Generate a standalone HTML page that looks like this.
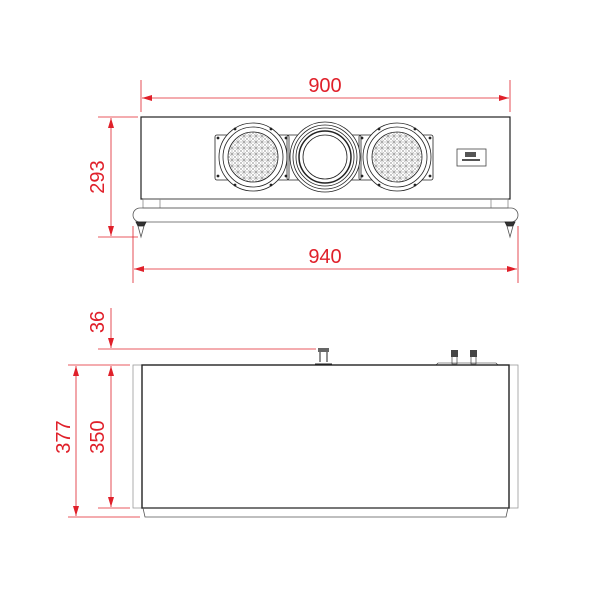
<!DOCTYPE html>
<html><head><style>body{margin:0;background:#fff}svg{display:block}</style></head><body>
<svg width="600" height="600" viewBox="0 0 600 600" xmlns="http://www.w3.org/2000/svg" font-family="Liberation Sans, sans-serif">
<defs>
<marker id="a" viewBox="0 0 10 6" refX="10" refY="3" markerWidth="10" markerHeight="6" orient="auto-start-reverse" markerUnits="userSpaceOnUse"><path d="M0,0L10,3L0,6z" fill="#e0202a"/></marker>
<pattern id="g" width="6" height="6" patternUnits="userSpaceOnUse"><path d="M0,0L6,6M6,0L0,6M3,0V6M0,3H6" stroke="#777" stroke-width="0.4"/></pattern>
<g id="w" stroke="#222" fill="none" stroke-width="0.8"><rect x="-38" y="-22" width="74" height="45" rx="2"/><circle r="34" fill="#fff"/><circle r="30"/><circle r="25" fill="url(#g)"/>
<circle cx="-18" cy="-28" r="1" fill="#222"/><circle cx="18" cy="-28" r="1" fill="#222"/><circle cx="-18" cy="28" r="1" fill="#222"/><circle cx="18" cy="28" r="1" fill="#222"/><circle cx="-35" cy="-19" r="1" fill="#222"/><circle cx="-35" cy="19" r="1" fill="#222"/><circle cx="33" cy="-19" r="1" fill="#222"/><circle cx="33" cy="19" r="1" fill="#222"/></g>
</defs>
<g stroke="#e0202a" stroke-width="0.8" fill="none">
<line x1="141" y1="80" x2="141" y2="112"/><line x1="510" y1="80" x2="510" y2="112"/>
<line x1="142" y1="98" x2="509" y2="98" marker-start="url(#a)" marker-end="url(#a)"/>
<line x1="98" y1="117" x2="138" y2="117"/><line x1="98" y1="237" x2="138" y2="237"/>
<line x1="111" y1="118" x2="111" y2="236" marker-start="url(#a)" marker-end="url(#a)"/>
<line x1="133" y1="226" x2="133" y2="283"/><line x1="518" y1="226" x2="518" y2="283"/>
<line x1="134" y1="269" x2="517" y2="269" marker-start="url(#a)" marker-end="url(#a)"/>
<line x1="111" y1="308" x2="111" y2="348" marker-end="url(#a)"/>
<line x1="98" y1="349" x2="316" y2="349"/>
<line x1="68" y1="365" x2="130" y2="365"/><line x1="98" y1="508" x2="130" y2="508"/><line x1="68" y1="517" x2="140" y2="517"/>
<line x1="111" y1="366" x2="111" y2="507" marker-start="url(#a)" marker-end="url(#a)"/>
<line x1="76" y1="366" x2="76" y2="516" marker-start="url(#a)" marker-end="url(#a)"/>
</g>
<g fill="#e0202a" font-size="20" text-anchor="middle">
<text x="325" y="92">900</text>
<text x="325" y="263">940</text>
<text transform="translate(104,177) rotate(-90)">293</text>
<text transform="translate(104,322) rotate(-90)">36</text>
<text transform="translate(104,437) rotate(-90)">350</text>
<text transform="translate(70,437) rotate(-90)">377</text>
</g>
<g stroke="#222" fill="none" stroke-width="0.8">
<rect x="141" y="117" width="369" height="82" stroke-width="1.2"/>
<rect x="143" y="199" width="365" height="9" stroke="#888"/>
<line x1="160" y1="199" x2="160" y2="208" stroke="#888"/><line x1="491" y1="199" x2="491" y2="208" stroke="#888"/>
<rect x="133" y="208" width="385" height="14" rx="7" stroke="#555"/>
<path d="M136,222h10l-2,4h-6zM505,222h10l-2,4h-6z" fill="#333"/>
<path d="M138,226l3,11l3,-11M507,226l3,11l3,-11" stroke="#555"/>
</g>
<use href="#w" x="253" y="157"/><use href="#w" x="397" y="157"/>
<g stroke="#222" fill="none" stroke-width="0.8">
<g transform="translate(325,157)"><rect x="-38" y="-22" width="74" height="45" rx="2"/><circle r="35" fill="#fff"/><circle r="32"/><circle r="29"/><circle r="26" stroke-width="1.5"/><circle r="22"/></g>
<rect x="457" y="149" width="29" height="17" stroke="#444"/>
<rect x="465" y="152" width="11" height="5" fill="#555" stroke="none"/><rect x="462" y="159" width="18" height="2" fill="#555" stroke="none"/>
</g>
<g stroke="#222" fill="none">
<rect x="133" y="365" width="385" height="143" stroke="#999" stroke-width="0.8"/>
<rect x="142" y="365" width="367" height="143" stroke-width="1.4"/>
<path d="M143,508h365l-2,9h-361z" stroke="#555" stroke-width="0.8"/>
<rect x="318" y="348" width="11" height="4" fill="#666" stroke="none"/>
<path d="M320,352v10M327,352v10M315,364h17" stroke-width="1"/>
<rect x="451" y="350" width="7" height="7" fill="#444" stroke="none"/><rect x="470" y="350" width="7" height="7" fill="#444" stroke="none"/>
<path d="M452,357v7h5v-7M471,357v7h5v-7" stroke-width="0.6"/>
<path d="M436,365l2,-2h58l2,2" stroke-width="0.6"/>
</g>
</svg>
</body></html>
